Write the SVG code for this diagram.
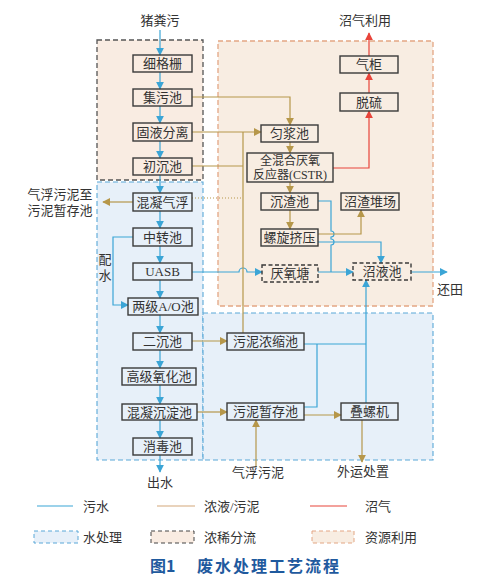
<svg xmlns="http://www.w3.org/2000/svg" width="487" height="580" viewBox="0 0 487 580">
<defs>
<style>
.t{font-family:"Liberation Serif","Noto Sans CJK SC",serif;font-size:13px;fill:#333;text-anchor:middle}
.ts{font-family:"Liberation Serif","Noto Sans CJK SC",serif;font-size:12px;fill:#333;text-anchor:middle}
.lt{font-family:"Liberation Serif","Noto Sans CJK SC",serif;font-size:13px;fill:#333}
.box{fill:none;stroke:#3a3a3a;stroke-width:1.4}
.dbox{fill:none;stroke:#3a3a3a;stroke-width:1.4;stroke-dasharray:4,2.5}
.w{fill:none;stroke:#3ba5d6;stroke-width:1.2}
.s{fill:none;stroke:#b6974a;stroke-width:1.2}
.g{fill:none;stroke:#e8443a;stroke-width:1.2}
.aw{marker-end:url(#mw)}
.as{marker-end:url(#ms)}
.ag{marker-end:url(#mg)}
</style>
<marker id="mw" viewBox="0 0 10 10" refX="9" refY="5" markerWidth="8" markerHeight="8" markerUnits="userSpaceOnUse" orient="auto"><path d="M0,0 L10,5 L0,10 Z" fill="#3ba5d6"/></marker>
<marker id="ms" viewBox="0 0 10 10" refX="9" refY="5" markerWidth="8" markerHeight="8" markerUnits="userSpaceOnUse" orient="auto"><path d="M0,0 L10,5 L0,10 Z" fill="#b6974a"/></marker>
<marker id="mg" viewBox="0 0 10 10" refX="9" refY="5" markerWidth="8" markerHeight="8" markerUnits="userSpaceOnUse" orient="auto"><path d="M0,0 L10,5 L0,10 Z" fill="#e8443a"/></marker>
</defs>
<rect width="487" height="580" fill="#fff"/>

<g id="regions">
<rect x="97" y="40" width="106" height="140" fill="#f9ece2" stroke="#555" stroke-width="1.3" stroke-dasharray="5,3"/>
<rect x="218" y="41" width="215" height="265" fill="#f8ede2" stroke="#e3a684" stroke-width="1.3" stroke-dasharray="5,3"/>
<rect x="97" y="182" width="106" height="278" fill="#e7f0f9" stroke="#5aa8d8" stroke-width="1.1" stroke-dasharray="5,3"/>
<rect x="203" y="313" width="230" height="147" fill="#e7f0f9" stroke="#5aa8d8" stroke-width="1.1" stroke-dasharray="5,3"/>
</g>

<g id="connectors">
<path class="w aw" d="M160,30 V55"/>
<path class="w aw" d="M160,72 V89"/>
<path class="w aw" d="M160,106 V123"/>
<path class="w aw" d="M160,141 V158"/>
<path class="w aw" d="M160,175 V193"/>
<path class="w aw" d="M160,211 V228"/>
<path class="w aw" d="M160,246 V263"/>
<path class="w aw" d="M160,280 V298"/>
<path class="w aw" d="M160,315 V333"/>
<path class="w aw" d="M160,350 V368"/>
<path class="w aw" d="M160,385 V404"/>
<path class="w aw" d="M160,420 V438"/>
<path class="w aw" d="M160,455 V472"/>
<path class="w aw" d="M133,237 H113 V305 H128"/>
<path class="w aw" d="M192,272 H239 a4,4 0 0 1 8,0 H262"/>
<path class="w aw" d="M318,272 H353"/>
<path class="w" d="M318,201 H331 V231 a3,3 0 0 1 0,6 V239 a3,3 0 0 1 0,6 V272"/>
<path class="w aw" d="M318,242 H381 V263"/>
<path class="w aw" d="M366,403 V280"/>
<path class="w" d="M304,344 H366"/>
<path class="w" d="M304,407 H317 V344"/>
<path class="w aw" d="M411,272 H447"/>
<path class="s as" d="M192,97 H290 V125"/>
<path class="s as" d="M192,132 H261"/>
<path class="s" d="M192,166 H243"/>
<path class="s" d="M243,333 V132"/>
<path class="s" d="M192,198 H243" stroke-dasharray="1,2"/>
<path class="s as" d="M133,202 H103"/>
<path class="s as" d="M290,142 V153"/>
<path class="s as" d="M290,182 V193"/>
<path class="s as" d="M290,210 V229"/>
<path class="s as" d="M318,234 H361 V210"/>
<path class="s as" d="M192,341 H227"/>
<path class="s as" d="M197,412 H227"/>
<path class="s as" d="M256,467 V420"/>
<path class="s as" d="M304,415 H341"/>
<path class="s as" d="M362,420 V462"/>
<path class="g ag" d="M333,168 H369 V111"/>
<path class="g ag" d="M369,93 V73"/>
<path class="g ag" d="M369,56 V33"/>
</g>

<g id="labels">
<text class="t" x="160" y="25">猪粪污</text>
<text class="t" x="365" y="25">沼气利用</text>
<text class="t" x="160" y="487">出水</text>
<text class="t" x="60" y="199">气浮污泥至</text>
<text class="t" x="60" y="215">污泥暂存池</text>
<text class="t" x="105" y="264">配</text>
<text class="t" x="105" y="280">水</text>
<text class="t" x="450" y="294">还田</text>
<text class="t" x="258" y="477">气浮污泥</text>
<text class="t" x="363" y="476">外运处置</text>
</g>

<g id="n-xigeshan"><rect class="box" x="133" y="55" width="59" height="17"/><text class="t" x="162.5" y="68">细格栅</text></g>
<g id="n-jiwuchi"><rect class="box" x="133" y="89" width="59" height="17"/><text class="t" x="162.5" y="102">集污池</text></g>
<g id="n-guyefenli"><rect class="box" x="133" y="123" width="59" height="18"/><text class="t" x="162.5" y="137">固液分离</text></g>
<g id="n-chuchenchi"><rect class="box" x="133" y="158" width="59" height="17"/><text class="t" x="162.5" y="171">初沉池</text></g>
<g id="n-hunningqifu"><rect class="box" x="133" y="193" width="59" height="18"/><text class="t" x="162.5" y="207">混凝气浮</text></g>
<g id="n-zhongzhuanchi"><rect class="box" x="133" y="228" width="59" height="18"/><text class="t" x="162.5" y="242">中转池</text></g>
<g id="n-uasb"><rect class="box" x="133" y="263" width="59" height="17"/><text class="t" x="162.5" y="276">UASB</text></g>
<g id="n-ao"><rect class="box" x="128" y="298" width="70" height="17"/><text class="t" x="163" y="311">两级A/O池</text></g>
<g id="n-erchenchi"><rect class="box" x="133" y="333" width="59" height="17"/><text class="t" x="162.5" y="346">二沉池</text></g>
<g id="n-gaojiyanghua"><rect class="box" x="122" y="368" width="74" height="17"/><text class="t" x="159" y="381">高级氧化池</text></g>
<g id="n-hunningchendian"><rect class="box" x="122" y="404" width="75" height="16"/><text class="t" x="159.5" y="417">混凝沉淀池</text></g>
<g id="n-xiaoduchi"><rect class="box" x="133" y="438" width="59" height="17"/><text class="t" x="162.5" y="451">消毒池</text></g>

<g id="n-qigui"><rect class="box" x="340" y="56" width="58" height="17"/><text class="t" x="369" y="69">气柜</text></g>
<g id="n-tuoliu"><rect class="box" x="340" y="93" width="58" height="18"/><text class="t" x="369" y="107">脱硫</text></g>
<g id="n-yunjiangchi"><rect class="box" x="261" y="125" width="57" height="17"/><text class="t" x="289.5" y="138">匀浆池</text></g>
<g id="n-cstr"><rect class="box" x="247" y="153" width="86" height="29"/><text class="ts" x="290" y="165">全混合厌氧</text><text class="ts" x="290" y="179">反应器(CSTR)</text></g>
<g id="n-chenzhachi"><rect class="box" x="261" y="193" width="57" height="17"/><text class="t" x="289.5" y="206">沉渣池</text></g>
<g id="n-luoxuanjiya"><rect class="box" x="261" y="229" width="57" height="17"/><text class="t" x="289.5" y="242">螺旋挤压</text></g>
<g id="n-yanyangtang"><rect class="dbox" x="262" y="265" width="56" height="17"/><text class="t" x="290" y="278">厌氧塘</text></g>
<g id="n-zhaozhaduichang"><rect class="box" x="341" y="193" width="58" height="17"/><text class="t" x="370" y="206">沼渣堆场</text></g>
<g id="n-zhaoyechi"><rect class="dbox" x="353" y="263" width="58" height="17"/><text class="t" x="382" y="276">沼液池</text></g>
<g id="n-wunixnongsuo"><rect class="box" x="227" y="333" width="77" height="17"/><text class="t" x="265.5" y="346">污泥浓缩池</text></g>
<g id="n-wunizancun"><rect class="box" x="227" y="403" width="77" height="17"/><text class="t" x="265.5" y="416">污泥暂存池</text></g>
<g id="n-dieluoji"><rect class="box" x="341" y="403" width="57" height="17"/><text class="t" x="369.5" y="416">叠螺机</text></g>

<g id="legend">
<line x1="37" y1="506" x2="73" y2="506" stroke="#3ba5d6" stroke-width="1.1"/>
<text class="lt" x="83" y="511">污水</text>
<line x1="157" y1="506" x2="195" y2="506" stroke="#d4a77a" stroke-width="1.1"/>
<text class="lt" x="204" y="511">浓液/污泥</text>
<line x1="310" y1="506" x2="347" y2="506" stroke="#e8443a" stroke-width="1.1"/>
<text class="lt" x="365" y="511">沼气</text>
<rect x="34" y="531" width="44" height="12" fill="#e7f0f9" stroke="#5aa8d8" stroke-width="1" stroke-dasharray="4,3"/>
<text class="lt" x="83" y="542">水处理</text>
<rect x="151" y="531" width="43" height="12" fill="#f9ece2" stroke="#444" stroke-width="1" stroke-dasharray="4,3"/>
<text class="lt" x="204" y="542">浓稀分流</text>
<rect x="312" y="531" width="42" height="12" fill="#f8ede2" stroke="#e3a684" stroke-width="1" stroke-dasharray="4,3"/>
<text class="lt" x="365" y="542">资源利用</text>
<text x="150" y="572" font-family="'Noto Sans CJK SC',sans-serif" font-weight="bold" font-size="16" fill="#1f5a9e">图1</text>
<text x="197" y="572" font-family="'Noto Sans CJK SC',sans-serif" font-weight="bold" font-size="16" letter-spacing="2" fill="#1f5a9e">废水处理工艺流程</text>
</g>
</svg>
